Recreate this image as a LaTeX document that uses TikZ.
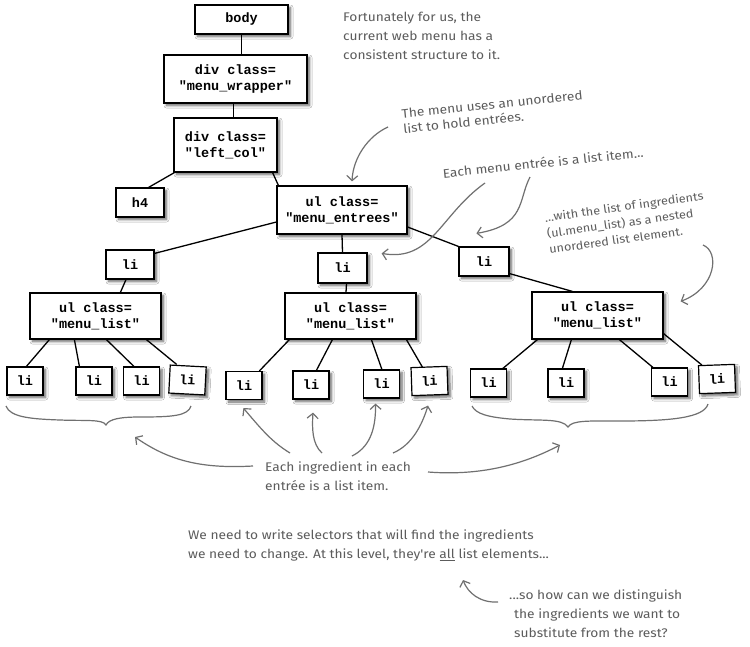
\documentclass[tikz,border=0pt]{standalone}
\usepackage{fontspec}
\setmainfont{Fira Sans}
\newfontfamily\handfont{Fira Sans}[FakeStretch=1.1]
\newfontfamily\boxfont{Liberation Mono}
\usetikzlibrary{arrows.meta,calc,shadows.blur}
\definecolor{notecol}{HTML}{5C5C5C}
\definecolor{arrcol}{HTML}{707070}
\begin{document}
\begin{tikzpicture}[x=1pt,y=-1pt,
 tag/.style={draw=black, line width=1.2pt, fill=white, inner sep=0pt, align=center,
   font=\boxfont\bfseries\fontsize{13.5}{16}\selectfont,
   blur shadow={shadow xshift=2.5pt, shadow yshift=-2.5pt, shadow blur steps=6, shadow opacity=60, shadow blur radius=2.5pt}},
 leaf/.style={tag, minimum width=36pt, minimum height=28pt},
 mlist/.style={tag, minimum width=131pt, minimum height=46pt},
 link/.style={line width=1.3pt},
 note/.style={text=notecol, font=\handfont\fontsize{12.5}{19}\selectfont, align=left, inner sep=0pt, anchor=north west},
 hand/.style={draw=arrcol, line width=1.2pt, -{Straight Barb[length=5pt,width=11pt]}},
 bracestyle/.style={draw=arrcol, line width=1.2pt},
]
\useasboundingbox (0,0) rectangle (750,646);
\fill[white] (0,0) rectangle (750,646);

% ---- tree nodes ----
\node[tag, minimum width=93pt, minimum height=29pt] (body) at (241.5,19.5) {body};
\node[tag, minimum width=143pt, minimum height=48pt] (wrap) at (235.5,79) {div class=\\"menu\_wrapper"};
\node[tag, minimum width=103pt, minimum height=54pt] (lcol) at (225.5,145) {div class=\\"left\_col"};
\node[tag, minimum width=48pt, minimum height=29pt] (h4) at (140,202.5) {h4};
\node[tag, minimum width=130pt, minimum height=48pt] (ent) at (342,210) {ul class=\\"menu\_entrees"};
\node[tag, minimum width=48pt, minimum height=29pt] (liL) at (130,264.5) {li};
\node[tag, minimum width=49pt, minimum height=30pt] (liM) at (342.5,268) {li};
\node[tag, minimum width=50pt, minimum height=29pt] (liR) at (484,261.5) {li};
\node[mlist] (mlL) at (95.5,316) {ul class=\\"menu\_list"};
\node[mlist] (mlM) at (350.5,316) {ul class=\\"menu\_list"};
\node[mlist, minimum height=47pt] (mlR) at (597.5,315.5) {ul class=\\"menu\_list"};

\node[leaf] (L1) at (25,381) {li};
\node[leaf] (L2) at (94,381) {li};
\node[leaf] (L3) at (141.5,381) {li};
\node[leaf, rotate=-3] (L4) at (187.5,380) {li};
\node[leaf] (M1) at (244,385.5) {li};
\node[leaf] (M2) at (311,385) {li};
\node[leaf] (M3) at (381.5,384) {li};
\node[leaf, rotate=2] (M4) at (429.5,381) {li};
\node[leaf] (R1) at (488.5,383) {li};
\node[leaf] (R2) at (566,383) {li};
\node[leaf] (R3) at (669.5,382) {li};
\node[leaf, rotate=2] (R4) at (717,379) {li};

% ---- tree links ----
\draw[link] (body.south) -- (body.south |- wrap.north);
\draw[link] ([xshift=-2pt]wrap.south) -- ([xshift=-2pt]wrap.south |- lcol.north);
\draw[link] ([xshift=1pt]lcol.south west) -- ([xshift=-16pt]h4.north east);
\draw[link] ([xshift=-5pt]lcol.south east) -- ([xshift=2pt]ent.north west);
\draw[link] ([yshift=-12pt]ent.west) -- ([yshift=-4pt]liL.north east);
\draw[link] (ent.south) -- (liM.north);
\draw[link] ([yshift=-17pt]ent.east) -- (liR.north west);
\draw[link] ([xshift=-4pt]liL.south) -- ([xshift=91pt]mlL.north west);
\draw[link] ([xshift=4pt]liM.south) -- ([xshift=-4.5pt]mlM.north);
\draw[link] ([yshift=3pt]liR.south east) -- ([xshift=41pt]mlR.north west);

\draw[link] ([xshift=20pt]mlL.south west) -- ([xshift=20pt]L1.north west);
\draw[link] ([xshift=45pt]mlL.south west) -- ([xshift=4pt]L2.north west);
\draw[link] ([xshift=77pt]mlL.south west) -- ([xshift=11pt]L3.north west);
\draw[link] ([xshift=117pt]mlL.south west) -- ([xshift=7pt]L4.north west);

\draw[link] ([xshift=5pt]mlM.south west) -- ([xshift=34pt]M1.north west);
\draw[link] ([xshift=48pt]mlM.south west) -- ([xshift=24pt]M2.north west);
\draw[link] ([xshift=87pt]mlM.south west) -- ([xshift=19pt]M3.north west);
\draw[link] ([xshift=122pt]mlM.south west) -- ([xshift=12pt]M4.north west);

\draw[link] ([xshift=6pt]mlR.south west) -- ([xshift=33pt]R1.north west);
\draw[link] ([xshift=40pt]mlR.south west) -- ([xshift=15pt]R2.north west);
\draw[link] ([xshift=88pt]mlR.south west) -- ([xshift=2pt]R3.north west);
\draw[link] ([yshift=6pt]mlR.south east) -- ([xshift=4pt]R4.north west);

% ---- annotations ----
\node[note] (n1) at (343,12) {Fortunately for us, the\\current web menu has a\\consistent structure to it.};
\node[note, rotate=6, font=\handfont\fontsize{12.5}{15}\selectfont] (n2) at (401,109) {The menu uses an unordered\\list to hold entrées.};
\node[note, rotate=6] (n3) at (442,168) {Each menu entrée is a list item...};
\node[note, rotate=8, font=\handfont\fontsize{11.5}{16}\selectfont] (n4) at (544,213) {...with the list of ingredients\\(ul.menu\_list) as a nested\\unordered list element.};
\node[note] (n5) at (265,462) {Each ingredient in each\\entrée is a list item.};
\node[note] (n6) at (188,530) {We need to write selectors that will find the ingredients\\we need to change. At this level, they're \underline{all} list elements...};
\node[note] (n7) at (509,590) {...so how can we distinguish\\\hspace*{5pt}the ingredients we want to\\\hspace*{5pt}substitute from the rest?};

% ---- arrow end points ----
\coordinate (a1s) at (388,127);
\coordinate (a2s) at (485,183);
\coordinate (a3s) at (530,177);
\coordinate (a4s) at (703,245);
\coordinate (b1s) at (253,466);
\coordinate (b2s) at (428,472);
\coordinate (u1s) at (290,453);
\coordinate (u2s) at (322,453);
\coordinate (u3s) at (352,456);
\coordinate (u4s) at (393,453);
\coordinate (c1s) at (498,602);
\coordinate (braceL) at (135,437);
\coordinate (braceR) at (560,445);
\coordinate (allword) at (463,580);

% ---- hand-drawn arrows ----
\draw[hand] (a1s) .. controls (368,136) and (353,158) .. ([xshift=10pt,yshift=4pt]ent.north);
\draw[hand] (a2s) .. controls (440,215) and (432,262) .. ([xshift=14pt,yshift=-1pt]liM.north east);
\draw[hand] (a3s) .. controls (518,200) and (526,225) .. ([xshift=18pt,yshift=13pt]liR.north west);
\draw[hand] (a4s) .. controls (720,252) and (716,288) .. ([xshift=17pt,yshift=-10pt]mlR.north east);
\draw[hand] (b1s) .. controls (200,469) and (168,460) .. (braceL);
\draw[hand] (b2s) .. controls (480,476) and (522,465) .. (braceR);
\draw[hand] (u1s) .. controls (272,442) and (262,430) .. ([xshift=18pt,yshift=-8pt]M1.south west);
\draw[hand] (u2s) .. controls (312,444) and (312,428) .. ([xshift=2pt,yshift=-13pt]M2.south);
\draw[hand] (u3s) .. controls (368,448) and (376,432) .. ([xshift=-6pt,yshift=-5pt]M3.south);
\draw[hand] (u4s) .. controls (412,445) and (422,425) .. ([xshift=-2pt,yshift=-10pt]M4.south);
\draw[hand] (c1s) .. controls (480,603) and (468,593) .. (allword);

% ---- braces ----
\draw[bracestyle] (6,406) .. controls (10,417) and (30,419) .. (60,420)
  .. controls (85,421) and (103,419) .. (106,425)
  .. controls (109,419) and (120,417) .. (140,417)
  .. controls (172,417) and (188,416) .. (191,406);
\draw[bracestyle] (472,406) .. controls (476,414) and (488,417) .. (510,419)
  .. controls (540,421) and (562,418) .. (568,427)
  .. controls (572,420) and (590,421) .. (620,421)
  .. controls (670,421) and (704,418) .. (708,404);
\end{tikzpicture}
\end{document}
